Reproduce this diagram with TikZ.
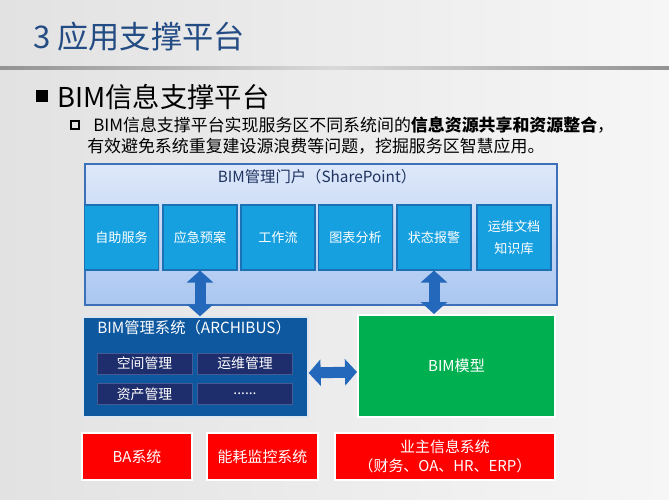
\documentclass[tikz,border=0pt]{standalone}
\usepackage{fontspec}
\setmainfont{Noto Sans CJK SC}
\usetikzlibrary{arrows.meta,calc,shadows}
\newlength\pxu \setlength\pxu{0.75pt}
\definecolor{bgl}{RGB}{226,226,226}
\definecolor{bgr}{RGB}{246,246,246}
\definecolor{titleblue}{RGB}{36,76,132}
\definecolor{portaltop}{RGB}{222,232,250}
\definecolor{portalbot}{RGB}{170,198,240}
\definecolor{portalline}{RGB}{60,112,185}
\definecolor{appblue}{RGB}{22,160,224}
\definecolor{appline}{RGB}{28,112,180}
\definecolor{sysblue}{RGB}{14,88,160}
\definecolor{navy}{RGB}{30,45,108}
\definecolor{navyline}{RGB}{70,90,150}
\definecolor{bimgreen}{RGB}{0,176,80}
\definecolor{bimred}{RGB}{255,0,0}
\definecolor{arrowblue}{RGB}{36,104,188}
\definecolor{darktext}{RGB}{30,50,95}
\tikzset{
  appbox/.style={draw=appline, line width=0.8pt, fill=appblue, text=white,
    minimum width=74\pxu, minimum height=65\pxu, inner sep=1pt, align=center,
    font=\fontsize{9.8pt}{17pt}\selectfont, drop shadow={opacity=0.25,shadow xshift=0.8pt,shadow yshift=-0.8pt}},
  modbox/.style={draw=navyline, line width=0.6pt, fill=navy, text=white,
    minimum width=95\pxu, minimum height=21\pxu, inner sep=0pt,
    font=\fontsize{10.4pt}{12pt}\selectfont},
  redbox/.style={draw=white, line width=1.5pt, fill=bimred, text=white, align=center,
    minimum height=47\pxu, inner sep=0pt, font=\fontsize{11.2pt}{14pt}\selectfont,
    drop shadow={opacity=0.2,shadow xshift=0.8pt,shadow yshift=-0.8pt}},
  bigarrow/.style={draw=arrowblue, line width=8.25pt,
    {Triangle[width=19.5pt,length=9pt]}-{Triangle[width=19.5pt,length=9pt]}},
}
\begin{document}
\begin{tikzpicture}[x=0.75pt,y=-0.75pt]
\useasboundingbox (0,0) rectangle (669,500);
\shade[left color=bgl, right color=bgr] (0,0) rectangle (669,500);
% separator
\shade[left color=gray!85, right color=gray!85, middle color=gray!30] (0,66.5) rectangle (669,69.5);
% title
\node[anchor=west, inner sep=0pt, text=titleblue, font=\fontsize{23.4pt}{26pt}\selectfont] (title) at (33,37) {3 应用支撑平台};
% bullets
\fill[black] (36,90) rectangle (48,102);
\node[anchor=west, inner sep=0pt, font=\fontsize{20.5pt}{24pt}\selectfont] (b1txt) at (57,97) {BIM信息支撑平台};
\draw[black, line width=1.6pt] (71,121) rectangle (79,129);
\node[anchor=west, inner sep=0pt, font=\fontsize{12.7pt}{15pt}\selectfont] (l1) at (93,125) {BIM信息支撑平台实现服务区不同系统间的\textbf{信息资源共享和资源整合}，};
\node[anchor=west, inner sep=0pt, font=\fontsize{12.7pt}{15pt}\selectfont] (l2) at (87,146) {有效避免系统重复建设源浪费等问题，挖掘服务区智慧应用。};
% portal
\node[draw=portalline, line width=1pt, top color=portaltop, bottom color=portalbot,
  minimum width=472\pxu, minimum height=141\pxu, inner sep=0pt] (portal) at (321,234.5) {};
\node[text=darktext, inner sep=0pt, font=\fontsize{11.5pt}{13pt}\selectfont] (ptitle) at (317,177) {BIM管理门户（SharePoint）};
\node[appbox] (a1) at (121.5,237.5) {自助服务};
\node[appbox] (a2) at (200,237.5) {应急预案};
\node[appbox] (a3) at (278,237.5) {工作流};
\node[appbox] (a4) at (355.5,237.5) {图表分析};
\node[appbox] (a5) at (434,237.5) {状态报警};
\node[appbox] (a6) at (514,237.5) {运维文档\\知识库};
% management system
\node[draw=white!85!sysblue, line width=1pt, fill=sysblue, minimum width=225\pxu, minimum height=100\pxu, inner sep=0pt] (mgmt) at (195.5,367) {};
\node[anchor=west, text=white, inner sep=0pt, font=\fontsize{11.5pt}{13pt}\selectfont] (mtitle) at (97,328) {BIM管理系统（ARCHIBUS）};
\node[modbox] (m1) at (144.5,363.5) {空间管理};
\node[modbox] (m2) at (245,363.5) {运维管理};
\node[modbox] (m3) at (144.5,394) {资产管理};
\node[modbox] (m4) at (245,394) {......};
% BIM model
\node[draw=white, line width=1.5pt, fill=bimgreen, text=white, minimum width=197\pxu, minimum height=102\pxu,
  inner sep=0pt, font=\fontsize{11.3pt}{13pt}\selectfont,
  drop shadow={opacity=0.2,shadow xshift=0.8pt,shadow yshift=-0.8pt}] (model) at (456.5,366) {BIM模型};
% red systems
\node[redbox, minimum width=110\pxu] (r1) at (137,456.5) {BA系统};
\node[redbox, minimum width=111\pxu] (r2) at (262.5,456.5) {能耗监控系统};
\node[redbox, minimum width=220\pxu] (r3) at (445,456.5) {业主信息系统\\（财务、OA、HR、ERP）};
% arrows
\draw[bigarrow] (a2.south) -- (a2.south |- mgmt.north);
\draw[bigarrow] (a5.south) -- (a5.south |- model.north);
\draw[bigarrow] ([yshift=-4.5pt]mgmt.east) -- ([yshift=-4.5pt]model.west);
\end{tikzpicture}
\end{document}
